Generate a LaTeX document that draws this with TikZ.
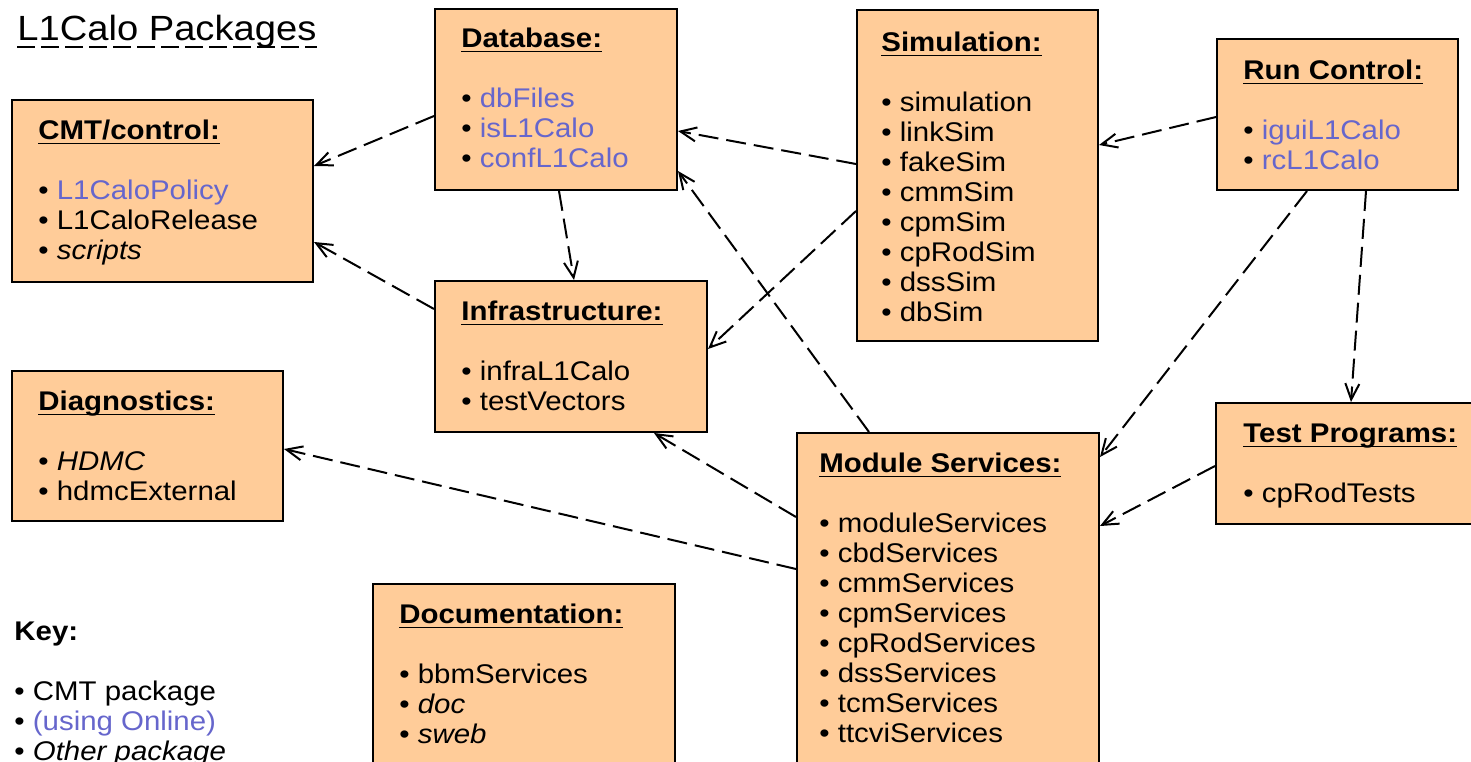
\documentclass[tikz,border=0pt]{standalone}
\usepackage{fontspec}
\setmainfont{Liberation Sans}[FakeStretch=1.09]
\usepackage{xcolor}
\usetikzlibrary{arrows.meta,calc,fit}

\definecolor{pkgfill}{RGB}{255,204,153}
\definecolor{online}{RGB}{102,102,204}
% heading: bold, underlined, with a fixed-height strut on the first line
\newcommand{\hd}[1]{\rule{0pt}{11bp}\setbox0=\hbox{\bfseries #1}\rlap{\rule[-2.4bp]{\wd0}{0.8bp}}\box0}
\newcommand{\onl}[1]{\textcolor{online}{#1}}

\begin{document}
\begin{tikzpicture}[
  x=0.5bp, y=-0.5bp,
  pkg/.style={draw, line width=1bp, fill=pkgfill, inner sep=0pt},
  txt/.style={anchor=north west, inner sep=0pt, align=left,
    font=\fontsize{13.5bp}{15bp}\selectfont},
  dep/.style={line width=1bp, dash pattern=on 10bp off 4bp,
    -{Straight Barb[length=8bp,width=7bp]}}
]
\useasboundingbox (0,0) rectangle (1471,761);

% Title and key
\node[anchor=base west, inner sep=0pt, font=\fontsize{17.5bp}{21bp}\selectfont] (title) at (17,40) {L1Calo Packages};
\draw[line width=0.8bp, dash pattern=on 9bp off 3bp] ($(title.base west)+(0,7)$) -- ($(title.base east)+(0,7)$);
\node[txt] (key) at (14,618) {\rule{0pt}{11bp}\textbf{Key:}\\[15bp]
  • CMT package\\ • \onl{(using Online)}\\ • \textit{Other package}};

% Boxes
\node[pkg, fit={(12,100) (313,282)}] (cmt) {};
\node[pkg, fit={(435,9) (677,190)}] (db) {};
\node[pkg, fit={(857,10) (1098,341)}] (sim) {};
\node[pkg, fit={(1217,39) (1458,190)}] (rc) {};
\node[pkg, fit={(435,281) (707,432)}] (infra) {};
\node[pkg, fit={(12,371) (283,521)}] (diag) {};
\node[pkg, fit={(797,433) (1099,790)}] (ms) {};
\node[pkg, fit={(1216,403) (1472,524)}] (tp) {};
\node[pkg, fit={(373,584) (675,790)}] (doc) {};

% Box contents
\node[txt] (cmttxt) at ($(cmt.north west)+(27,18)$) {\hd{CMT/control:}\\[15bp]
  • \onl{L1CaloPolicy}\\ • L1CaloRelease\\ • \textit{scripts}};
\node[txt] (dbtxt) at ($(db.north west)+(27,17)$) {\hd{Database:}\\[15bp]
  • \onl{dbFiles}\\ • \onl{isL1Calo}\\ • \onl{confL1Calo}};
\node[txt] (simtxt) at ($(sim.north west)+(25,20)$) {\hd{Simulation:}\\[15bp]
  • simulation\\ • linkSim\\ • fakeSim\\ • cmmSim\\ • cpmSim\\ • cpRodSim\\ • dssSim\\ • dbSim};
\node[txt] (rctxt) at ($(rc.north west)+(27,19)$) {\hd{Run Control:}\\[15bp]
  • \onl{iguiL1Calo}\\ • \onl{rcL1Calo}};
\node[txt] (infratxt) at ($(infra.north west)+(27,18)$) {\hd{Infrastructure:}\\[15bp]
  • infraL1Calo\\ • testVectors};
\node[txt] (diagtxt) at ($(diag.north west)+(27,18)$) {\hd{Diagnostics:}\\[15bp]
  • \textit{HDMC}\\ • hdmcExternal};
\node[txt] (mstxt) at ($(ms.north west)+(23,18)$) {\hd{Module Services:}\\[15bp]
  • moduleServices\\ • cbdServices\\ • cmmServices\\ • cpmServices\\ • cpRodServices\\
  • dssServices\\ • tcmServices\\ • ttcviServices};
\node[txt] (tptxt) at ($(tp.north west)+(28,18)$) {\hd{Test Programs:}\\[15bp]
  • cpRodTests};
\node[txt] (doctxt) at ($(doc.north west)+(27,18)$) {\hd{Documentation:}\\[15bp]
  • bbmServices\\ • \textit{doc}\\ • \textit{sweb}};

% Dependencies
\draw[dep] ($(db.north west)+(0,108)$) -- ($(cmt.north east)+(0,67)$);
\draw[dep] ($(infra.north west)+(0,29)$) -- ($(cmt.north east)+(0,143)$);
\draw[dep] ($(db.south west)+(125,0)$) -- ($(infra.north west)+(140,0)$);
\draw[dep] ($(sim.north west)+(0,155)$) -- ($(db.north east)+(0,123)$);
\draw[dep] ($(sim.north west)+(0,202)$) -- ($(infra.north east)+(0,69)$);
\draw[dep] ($(rc.north west)+(0,79)$) -- ($(sim.north east)+(0,136)$);
\draw[dep] ($(ms.north west)+(73,0)$) -- ($(db.north east)+(0,163)$);
\draw[dep] ($(ms.north west)+(0,85)$) -- ($(infra.south west)+(220,0)$);
\draw[dep] ($(ms.north west)+(0,137)$) -- ($(diag.north east)+(0,79)$);
\draw[dep] ($(rc.south west)+(91,0)$) -- ($(ms.north east)+(0,25)$);
\draw[dep] ($(rc.south west)+(150,0)$) -- ($(tp.north west)+(136,0)$);
\draw[dep] ($(tp.north west)+(0,64)$) -- ($(ms.north east)+(0,94)$);

\end{tikzpicture}
\end{document}
